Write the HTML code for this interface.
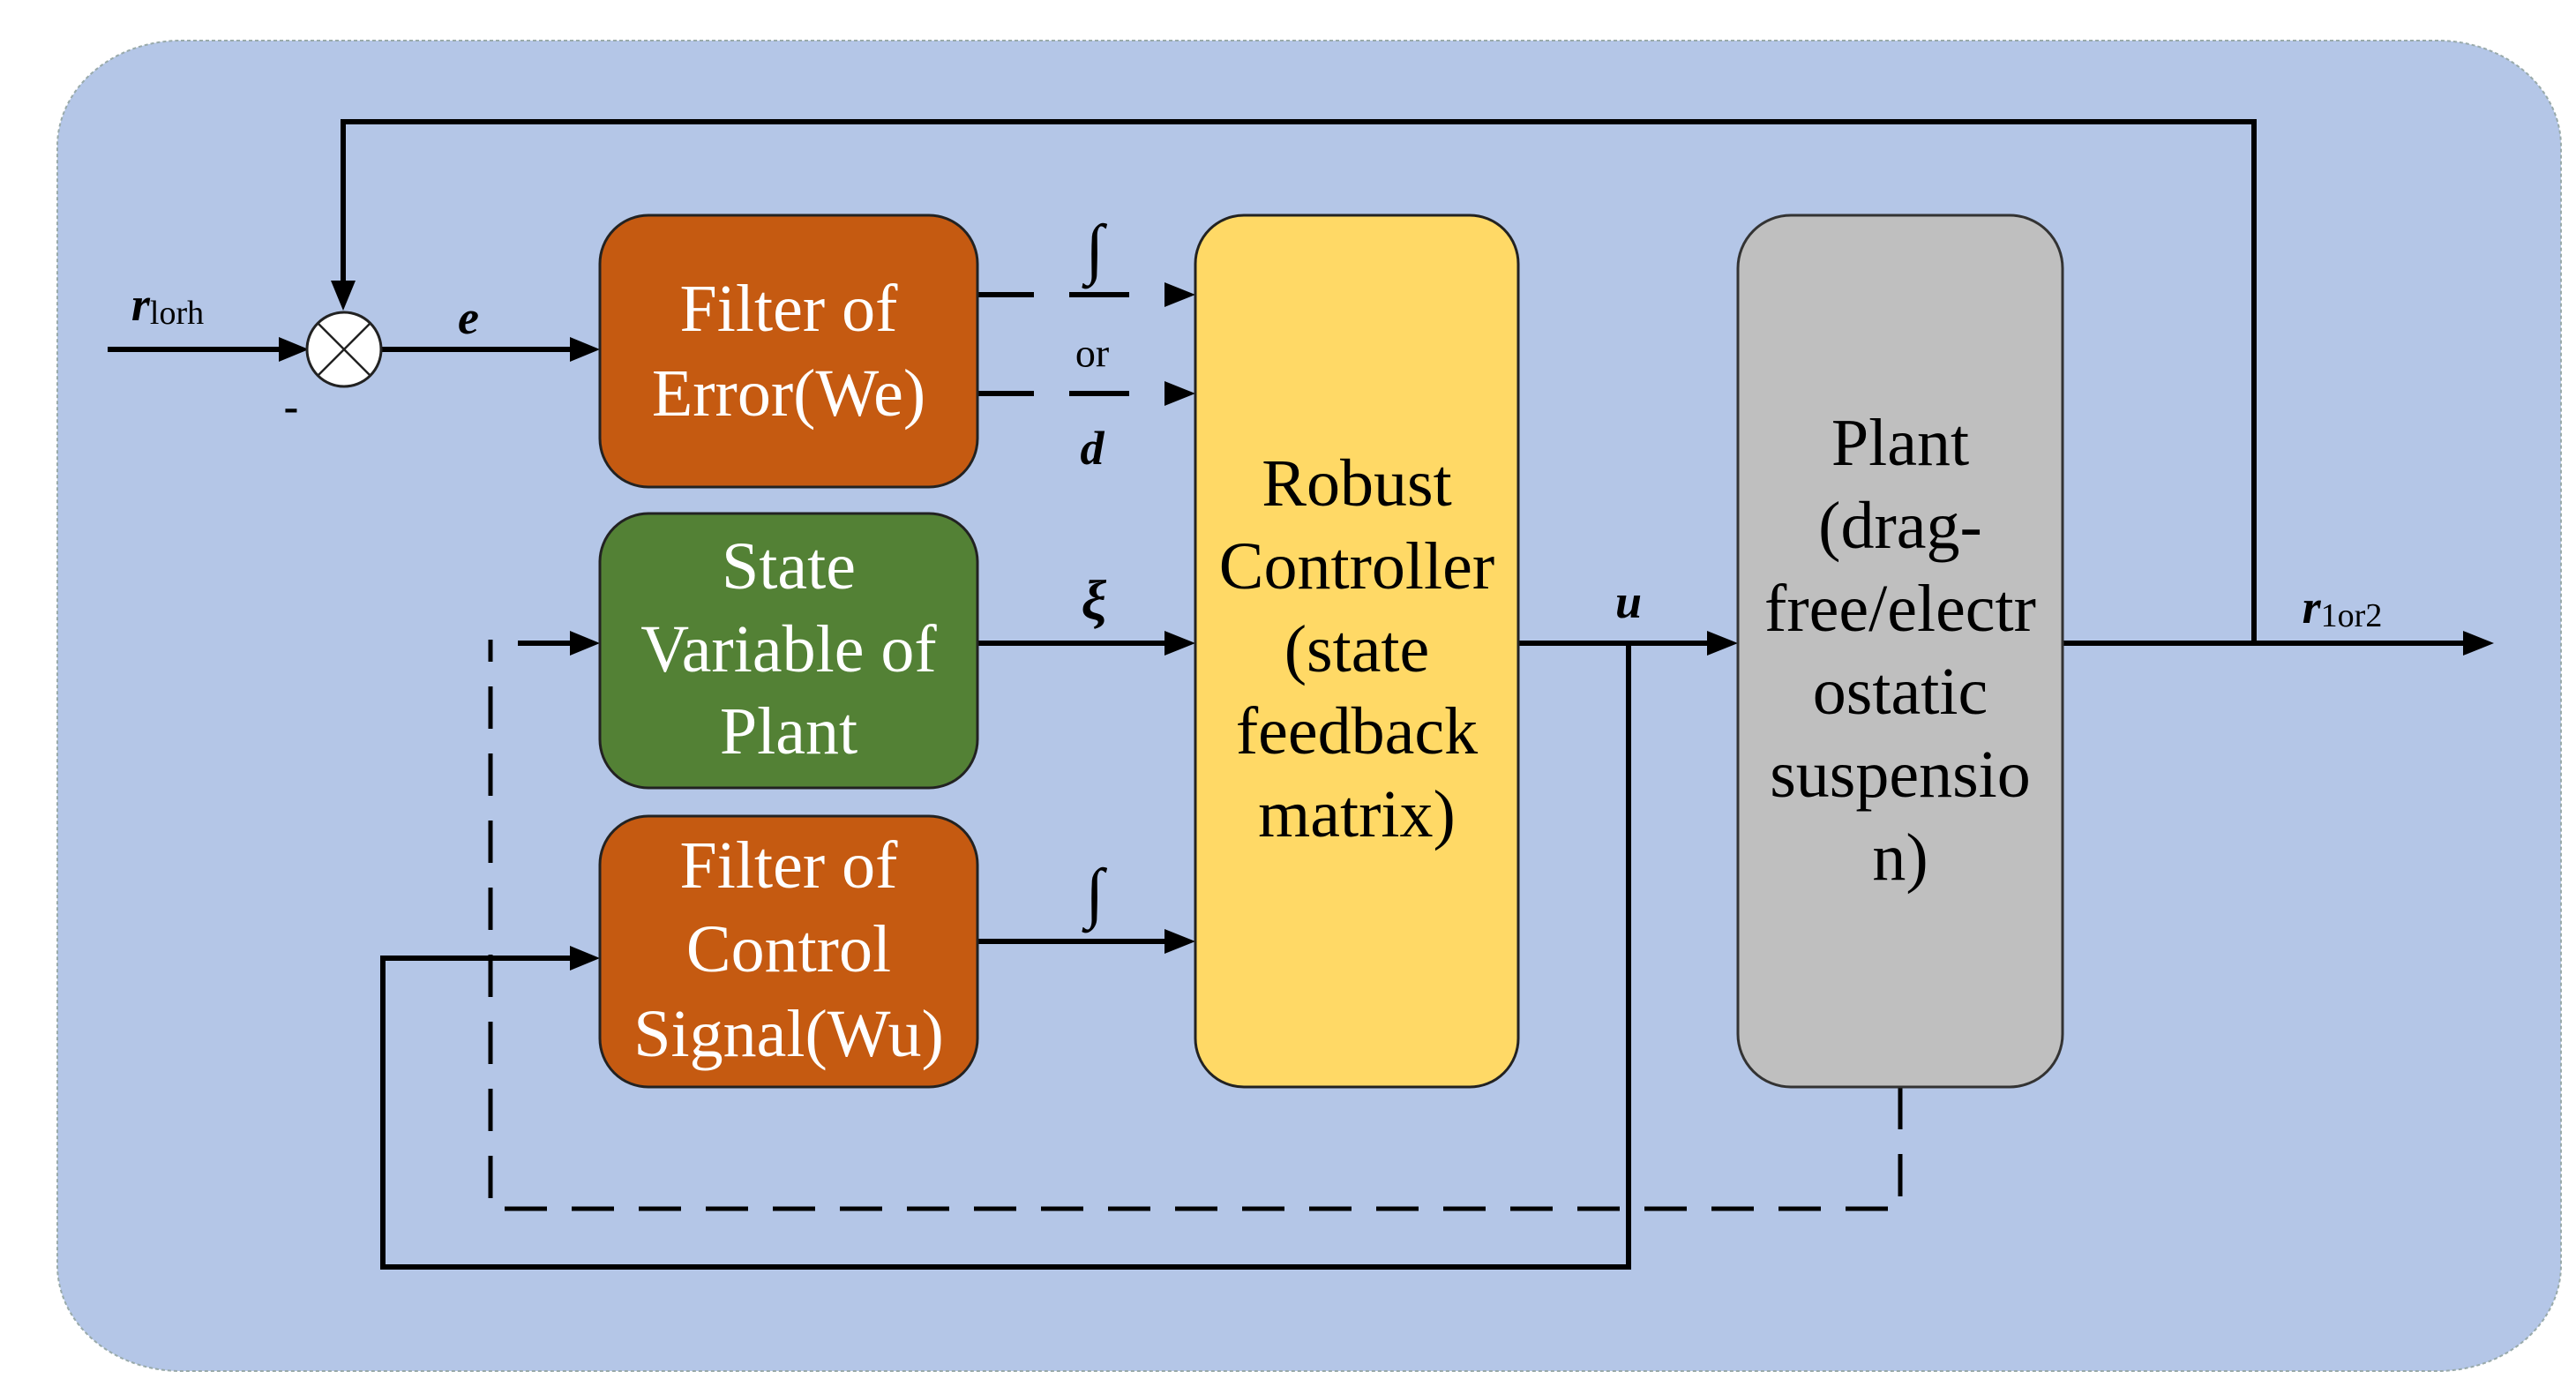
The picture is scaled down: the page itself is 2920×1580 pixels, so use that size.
<!DOCTYPE html>
<html><head><meta charset="utf-8"><style>
html,body{margin:0;padding:0;background:#fff;}
svg{display:block;}
text{font-family:"Liberation Serif",serif;}
</style></head><body>
<svg width="2920" height="1580" viewBox="0 0 2920 1580" xmlns="http://www.w3.org/2000/svg">
<rect x="65" y="46" width="2838" height="1508" rx="140" ry="120" fill="#b4c6e7" stroke="#9aa" stroke-width="2" stroke-dasharray="4 3"/>

<g stroke="#000" stroke-width="6" fill="none">
<polyline points="2555,729 2555,138 389,138 389,330"/>
<line x1="122" y1="396" x2="320" y2="396"/>
<line x1="433" y1="396" x2="650" y2="396"/>
<line x1="1108" y1="334" x2="1172" y2="334"/>
<line x1="1212" y1="334" x2="1280" y2="334"/>
<line x1="1108" y1="446" x2="1172" y2="446"/>
<line x1="1212" y1="446" x2="1280" y2="446"/>
<line x1="1108" y1="729" x2="1325" y2="729"/>
<line x1="1108" y1="1067" x2="1325" y2="1067"/>
<line x1="1721" y1="729" x2="1940" y2="729"/>
<line x1="2338" y1="729" x2="2795" y2="729"/>
<polyline points="1846,729 1846,1436 434,1436 434,1086 650,1086"/>
<line x1="587" y1="729" x2="650" y2="729"/>
</g>
<polyline points="2154,1232 2154,1370 556,1370 556,725" stroke="#000" stroke-width="5" fill="none" stroke-dasharray="48 28"/>

<g fill="#000">
<polygon points="389,352 375,318 403,318"/>
<polygon points="350,396 316,382 316,410"/>
<polygon points="680,396 646,382 646,410"/>
<polygon points="1355,334 1320,320 1320,348"/>
<polygon points="1355,446 1320,432 1320,460"/>
<polygon points="1355,729 1320,715 1320,743"/>
<polygon points="1355,1067 1320,1053 1320,1081"/>
<polygon points="1970,729 1935,715 1935,743"/>
<polygon points="2827,729 2792,715 2792,743"/>
<polygon points="680,1086 646,1072 646,1100"/>
<polygon points="680,729 646,715 646,743"/>
</g>

<circle cx="390" cy="396" r="42" fill="#fff" stroke="#222" stroke-width="3"/>
<line x1="360" y1="366" x2="420" y2="426" stroke="#222" stroke-width="2.5"/>
<line x1="420" y1="366" x2="360" y2="426" stroke="#222" stroke-width="2.5"/>

<rect x="680" y="244" width="428" height="308" rx="55" fill="#c55a11" stroke="#222" stroke-width="3"/>
<rect x="680" y="582" width="428" height="311" rx="55" fill="#538135" stroke="#222" stroke-width="3"/>
<rect x="680" y="925" width="428" height="307" rx="55" fill="#c55a11" stroke="#222" stroke-width="3"/>
<rect x="1355" y="244" width="366" height="988" rx="55" fill="#ffd966" stroke="#222" stroke-width="3"/>
<rect x="1970" y="244" width="368" height="988" rx="60" fill="#bfbfbf" stroke="#333" stroke-width="3"/>

<g font-size="76" text-anchor="middle" dominant-baseline="central" fill="#fff">
<text x="894" y="350">Filter of</text>
<text x="894" y="446">Error(We)</text>
<text x="894" y="642">State</text>
<text x="894" y="736">Variable of</text>
<text x="894" y="829">Plant</text>
<text x="894" y="981">Filter of</text>
<text x="894" y="1076">Control</text>
<text x="894" y="1172">Signal(Wu)</text>
</g>
<g font-size="76" text-anchor="middle" dominant-baseline="central" fill="#000">
<text x="1538" y="548">Robust</text>
<text x="1538" y="642">Controller</text>
<text x="1538" y="736">(state</text>
<text x="1538" y="829">feedback</text>
<text x="1538" y="923">matrix)</text>
<text x="2154" y="502">Plant</text>
<text x="2154" y="596">(drag-</text>
<text x="2154" y="690">free/electr</text>
<text x="2154" y="784">ostatic</text>
<text x="2154" y="878">suspensio</text>
<text x="2154" y="972">n)</text>
</g>
<g fill="#000" dominant-baseline="central" text-anchor="middle">
<text x="190" y="345" font-size="54" font-style="italic" font-weight="bold">r<tspan font-size="38" font-style="normal" font-weight="normal" dy="10">lorh</tspan></text>
<text x="531" y="360" font-size="54" font-style="italic" font-weight="bold">e</text>
<text x="330" y="460" font-size="50" font-weight="bold">-</text>
<text x="1240" y="282" font-size="76" font-style="italic" font-weight="bold">∫</text>
<text x="1238" y="400" font-size="46">or</text>
<text x="1238" y="508" font-size="54" font-style="italic" font-weight="bold">d</text>
<text x="1240" y="680" font-size="64" font-style="italic" font-weight="bold">ξ</text>
<text x="1240" y="1012" font-size="76" font-style="italic" font-weight="bold">∫</text>
<text x="1846" y="682" font-size="54" font-style="italic" font-weight="bold">u</text>
<text x="2655" y="688" font-size="54" font-style="italic" font-weight="bold">r<tspan font-size="38" font-style="normal" font-weight="normal" dy="10">1or2</tspan></text>
</g>
</svg>
</body></html>
